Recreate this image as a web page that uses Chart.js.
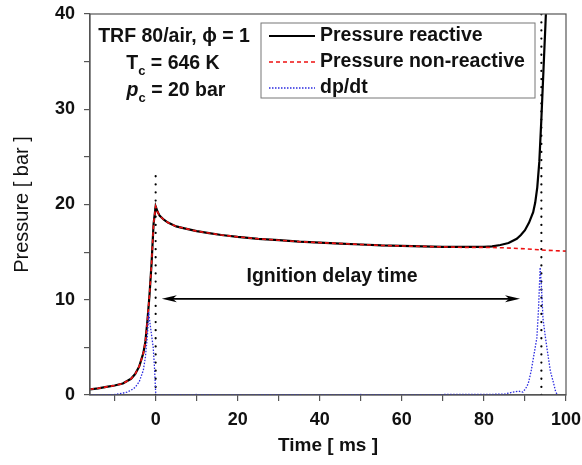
<!DOCTYPE html>
<html>
<head>
<meta charset="utf-8">
<script src="https://cdn.jsdelivr.net/npm/chart.js@4/dist/chart.umd.min.js"></script>
<style>
  html, body { margin: 0; padding: 0; background: #fff; }
  #wrap { width: 582px; height: 465px; }
</style>
</head>
<body>
<div id="wrap"><canvas id="pressureChart" width="582" height="465"></canvas></div>
<script>
// measured pressure trace (reactive mixture)
const timeReactive = [-16, -14, -12, -10, -8, -6, -5, -4, -3, -2.5, -2, -1.5, -1, -0.5, 0,
    0.5, 1, 2, 3, 5, 7, 10, 13, 16, 20, 25, 30, 35, 40, 45, 50, 55, 60, 65, 70, 75, 80,
    82, 84, 86, 88, 89, 90, 91, 92, 92.5, 93, 93.5, 94, 94.5, 95, 95.3];
const pressureReactive = [0.6, 0.7, 0.85, 1.0, 1.2, 1.7, 2.2, 3.0, 4.4, 5.6, 7.8, 10.5, 13.8, 18.0, 19.8,
    19.2, 18.8, 18.4, 18.1, 17.7, 17.5, 17.2, 17.0, 16.8, 16.6, 16.4, 16.25, 16.1, 16.0, 15.9, 15.8, 15.7, 15.65, 15.6, 15.55, 15.55, 15.55,
    15.6, 15.75, 15.95, 16.4, 16.8, 17.3, 18.1, 19.2, 20.2, 21.8, 24.5, 29, 34, 39, 42];

// non-reactive reference trace
const timeNonReactive = [-16, -14, -12, -10, -8, -6, -5, -4, -3, -2.5, -2, -1.5, -1, -0.5, 0,
    0.5, 1, 2, 3, 5, 7, 10, 13, 16, 20, 25, 30, 35, 40, 45, 50, 55, 60, 65, 70, 75, 80,
    85, 90, 95, 100];
const pressureNonReactive = [0.6, 0.7, 0.85, 1.0, 1.2, 1.7, 2.2, 3.0, 4.4, 5.6, 7.8, 10.5, 13.8, 18.0, 19.8,
    19.2, 18.8, 18.4, 18.1, 17.7, 17.5, 17.2, 17.0, 16.8, 16.6, 16.4, 16.25, 16.1, 16.0, 15.9, 15.8, 15.7, 15.65, 15.6, 15.55, 15.5, 15.5,
    15.45, 15.35, 15.2, 15.1];

// pressure rise rate dp/dt
const timeRate = [-16, -12, -10, -8, -7, -6, -5, -4, -3, -2.5, -2, -1.7, -1.4, -1, -0.6, -0.3, 0, 0.3,
    10, 20, 30, 40, 50, 60, 70, 80, 85, 87, 88.5, 89.5, 90.2, 90.8, 91.5, 92.3, 92.9, 93.3, 93.7,
    94.0, 94.4, 95, 95.5, 96.2, 97, 97.5, 98];
const rateValues = [0, 0.02, 0.05, 0.2, 0.3, 0.5, 0.8, 1.4, 2.6, 4.0, 6.3, 8.7, 7.6, 6.3, 5.0, 3.0, 0.3, 0,
    0.05, 0, 0.05, 0, 0.05, 0, 0.05, 0.05, 0.1, 0.3, 0.4, 0.3, 0.7, 1.2, 2.5, 4.5, 6.0, 9.0, 13.4,
    11.5, 8.0, 6.0, 4.5, 2.5, 1.2, 0.3, 0];

// ignition markers and delay arrow
const markerTimes = [0, 94];
const markerTops = [23.5, 40];
const arrowTimes = [1.5, 88.8];
const arrowLevel = 10.1;

const xRange = [-16, 100];
const yRange = [0, 40];

const FONT = '"Liberation Sans", Arial, sans-serif';
const TXT = 'bold 19.5px ' + FONT;
const SUB = 'bold 13px ' + FONT;

function pts(xs, ys) {
    return xs.map((x, i) => ({ x: x, y: ys[i] }));
}

const decorPlugin = {
    id: 'decor',
    afterDatasetsDraw(chart) {
        const ctx = chart.ctx;
        const a = chart.chartArea;
        const xs = chart.scales.x, ys = chart.scales.y;
        ctx.save();
        // frame top/right
        ctx.strokeStyle = '#555';
        ctx.lineWidth = 1.2;
        ctx.strokeRect(a.left, a.top, a.right - a.left, a.bottom - a.top);

        // arrow heads
        const yA = ys.getPixelForValue(arrowLevel);
        const x1 = xs.getPixelForValue(arrowTimes[0]);
        const x2 = xs.getPixelForValue(arrowTimes[1]);
        ctx.fillStyle = '#000';
        [[x1, 1], [x2, -1]].forEach(([x, d]) => {
            ctx.beginPath();
            ctx.moveTo(x, yA);
            ctx.lineTo(x + d * 15, yA - 3.5);
            ctx.lineTo(x + d * 11, yA);
            ctx.lineTo(x + d * 15, yA + 3.5);
            ctx.closePath();
            ctx.fill();
        });

        // annotation text
        ctx.fillStyle = '#111';
        ctx.textAlign = 'center';
        ctx.textBaseline = 'middle';
        ctx.font = TXT;
        ctx.fillText('Ignition delay time', xs.getPixelForValue(43), ys.getPixelForValue(12.4));

        ctx.fillText('TRF 80/air, \u03d5 = 1', 174, 37);
        // T_c line
        let cx = 173, cy = 64;
        let w1 = ctx.measureText('T').width;
        ctx.font = SUB;
        const ws = ctx.measureText('c').width;
        ctx.font = TXT;
        let w2 = ctx.measureText(' = 646 K').width;
        let sx = cx - (w1 + ws + w2) / 2;
        ctx.textAlign = 'left';
        ctx.fillText('T', sx, cy);
        ctx.font = SUB;
        ctx.fillText('c', sx + w1, cy + 7);
        ctx.font = TXT;
        ctx.fillText(' = 646 K', sx + w1 + ws, cy);
        // p_c line
        cy = 91; cx = 176;
        ctx.font = 'italic ' + TXT;
        w1 = ctx.measureText('p').width;
        ctx.font = TXT;
        w2 = ctx.measureText(' = 20 bar').width;
        sx = cx - (w1 + ws + w2) / 2;
        ctx.font = 'italic ' + TXT;
        ctx.fillText('p', sx, cy);
        ctx.font = SUB;
        ctx.fillText('c', sx + w1, cy + 7);
        ctx.font = TXT;
        ctx.fillText(' = 20 bar', sx + w1 + ws, cy);

        // legend box
        const lx = 261, ly = 23, lw = 274, lh = 75;
        ctx.fillStyle = '#fff';
        ctx.fillRect(lx, ly, lw, lh);
        ctx.strokeStyle = '#777';
        ctx.lineWidth = 1;
        ctx.strokeRect(lx, ly, lw, lh);
        const entries = chart.data.datasets.filter(d => d.inLegend);
        const rows = [36, 62, 88];
        entries.forEach((d, i) => {
            const yy = rows[i];
            ctx.strokeStyle = d.borderColor;
            ctx.lineWidth = d.legendWidth;
            ctx.setLineDash(d.borderDash || []);
            ctx.beginPath();
            ctx.moveTo(269, yy);
            ctx.lineTo(315, yy);
            ctx.stroke();
            ctx.setLineDash([]);
            ctx.fillStyle = '#111';
            ctx.textAlign = 'left';
            ctx.font = TXT;
            ctx.fillText(d.label, 320, yy);
        });
        ctx.restore();
    }
};

const datasets = [
    {
        label: 'dp/dt', inLegend: true, legendWidth: 1.5,
        data: pts(timeRate, rateValues),
        borderColor: '#2a2ae0', borderWidth: 1.3, borderDash: [1.5, 1.5],
        pointRadius: 0, order: 0
    },
    {
        label: 'Pressure non-reactive', inLegend: true, legendWidth: 1.6,
        data: pts(timeNonReactive, pressureNonReactive),
        borderColor: '#ee1111', borderWidth: 1.6, borderDash: [4, 3],
        pointRadius: 0, order: 1
    },
    {
        label: 'Pressure reactive', inLegend: true, legendWidth: 2,
        data: pts(timeReactive, pressureReactive),
        borderColor: '#000', borderWidth: 2.2,
        pointRadius: 0, order: 2
    },
    {
        label: 'marker0',
        data: [{ x: markerTimes[0], y: 0 }, { x: markerTimes[0], y: markerTops[0] }],
        borderColor: '#000', borderWidth: 2.2, borderDash: [0.1, 8], borderCapStyle: 'round',
        pointRadius: 0, order: 3
    },
    {
        label: 'marker1',
        data: [{ x: markerTimes[1], y: 0 }, { x: markerTimes[1], y: markerTops[1] }],
        borderColor: '#000', borderWidth: 2.2, borderDash: [0.1, 8], borderCapStyle: 'round',
        pointRadius: 0, order: 3
    },
    {
        label: 'arrow',
        data: [{ x: arrowTimes[0] + 1.5, y: arrowLevel }, { x: arrowTimes[1] - 1.5, y: arrowLevel }],
        borderColor: '#000', borderWidth: 1.8,
        pointRadius: 0, order: 3
    }
];
// reorder so legend rows read reactive, non-reactive, dp/dt
datasets.sort((a, b) => b.order - a.order);

new Chart(document.getElementById('pressureChart').getContext('2d'), {
    type: 'line',
    data: { datasets: datasets },
    options: {
        responsive: false,
        animation: false,
        layout: { padding: { left: 0, top: 14, right: 16, bottom: 8 } },
        plugins: { legend: { display: false }, tooltip: { enabled: false } },
        scales: {
            x: {
                type: 'linear',
                min: xRange[0], max: xRange[1],
                border: { color: '#555', width: 1.2 },
                grid: { drawOnChartArea: false, tickLength: 6, color: '#555', lineWidth: 1.2 },
                ticks: {
                    stepSize: 10, includeBounds: false, maxRotation: 0, padding: 8,
                    color: '#111', font: { family: FONT, size: 18, weight: 'bold' },
                    callback: v => (v % 20 === 0 ? v : '')
                },
                title: {
                    display: true, text: 'Time [ ms ]', color: '#111',
                    font: { family: FONT, size: 19, weight: 'bold' },
                    padding: { top: 8, bottom: 0 }
                },
                afterFit: s => { s.height = 62; s.paddingLeft = 0; s.paddingRight = 0; }
            },
            y: {
                min: yRange[0], max: yRange[1],
                border: { color: '#555', width: 1.2 },
                grid: { drawOnChartArea: false, tickLength: 6, color: '#555', lineWidth: 1.2 },
                ticks: {
                    stepSize: 5, includeBounds: false, padding: 9,
                    color: '#111', font: { family: FONT, size: 18, weight: 'bold' },
                    callback: v => (v % 10 === 0 ? v : '')
                },
                title: {
                    display: true, text: 'Pressure [ bar ]', color: '#111',
                    font: { family: FONT, size: 20, weight: 'normal' },
                    padding: { top: 10, bottom: 0 }
                },
                afterFit: s => { s.width = 90; s.paddingTop = 0; s.paddingBottom = 0; }
            }
        }
    },
    plugins: [decorPlugin]
});
</script>
</body>
</html>
